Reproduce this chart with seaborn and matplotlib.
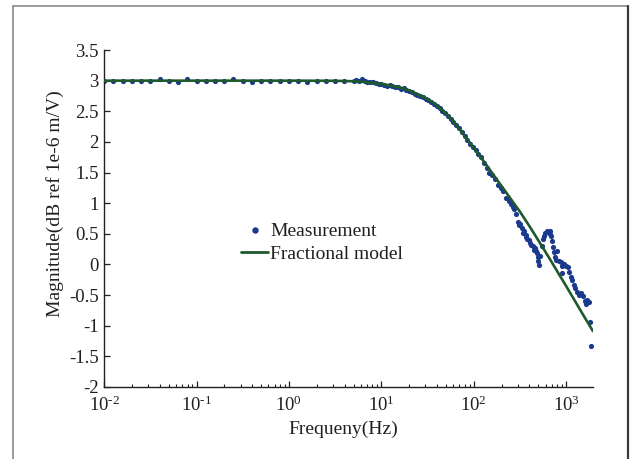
import matplotlib
matplotlib.use('Agg')
import matplotlib.pyplot as plt
from matplotlib.lines import Line2D
from matplotlib.ticker import LogLocator, FixedLocator, NullFormatter, FuncFormatter
import numpy as np
import seaborn as sns

# measurement, low frequency part (log10 of frequency in Hz)
low_exp = [-2.0, -1.9, -1.8, -1.7, -1.6, -1.5, -1.4, -1.3, -1.2, -1.1,
           -1.0, -0.9, -0.8, -0.7, -0.6, -0.5, -0.4, -0.3, -0.2, -0.1,
           0.0, 0.1, 0.2, 0.3, 0.4, 0.5, 0.6, 0.7]
low_mag = [3.00, 3.00, 3.00, 3.00, 3.00, 2.99, 3.02, 2.99, 2.98, 3.03,
           2.99, 2.99, 2.99, 3.00, 3.03, 2.99, 2.98, 2.99, 2.99, 2.99,
           2.99, 2.99, 2.98, 2.99, 2.99, 2.99, 2.99, 3.00]

# measurement, roll-off part
mid_exp = [0.73, 0.76, 0.79, 0.82, 0.85, 0.88, 0.91, 0.94, 0.97, 1.00,
           1.03, 1.06, 1.09, 1.12, 1.15, 1.18, 1.21, 1.24, 1.27, 1.30,
           1.33, 1.36, 1.39, 1.42, 1.45, 1.48, 1.51, 1.54, 1.57, 1.60,
           1.63, 1.66, 1.69, 1.72, 1.75, 1.78, 1.81, 1.84, 1.87, 1.90,
           1.93, 1.96, 1.99, 2.02, 2.05, 2.08, 2.11, 2.14, 2.17, 2.20,
           2.23, 2.26, 2.29, 2.32, 2.35, 2.38]
mid_mag = [3.01, 3.00, 3.02, 2.99, 2.98, 2.97, 2.98, 2.96, 2.95, 2.95,
           2.93, 2.92, 2.93, 2.91, 2.90, 2.89, 2.87, 2.88, 2.85, 2.83,
           2.82, 2.79, 2.77, 2.75, 2.73, 2.70, 2.68, 2.65, 2.62, 2.59,
           2.56, 2.51, 2.47, 2.43, 2.38, 2.33, 2.28, 2.22, 2.16, 2.10,
           2.03, 1.96, 1.91, 1.87, 1.81, 1.76, 1.66, 1.57, 1.49, 1.46,
           1.40, 1.30, 1.24, 1.20, 1.09, 1.04]

# measurement, high frequency part
high_exp = [2.40, 2.42, 2.44, 2.46, 2.48, 2.49, 2.50, 2.52, 2.53, 2.54,
            2.56, 2.57, 2.58, 2.60, 2.61, 2.62, 2.64, 2.65, 2.66, 2.67,
            2.68, 2.69, 2.70, 2.71, 2.72, 2.74, 2.75, 2.76, 2.77, 2.79,
            2.80, 2.82, 2.83, 2.84, 2.85, 2.86, 2.87, 2.88, 2.89, 2.90,
            2.92, 2.94, 2.95, 2.96, 2.98, 3.00, 3.02, 3.03, 3.05, 3.06,
            3.08, 3.10, 3.12, 3.14, 3.16, 3.18, 3.20, 3.21, 3.23, 3.245,
            3.26, 3.272]
high_mag = [0.99, 0.94, 0.90, 0.82, 0.70, 0.64, 0.66, 0.60, 0.52, 0.55,
            0.48, 0.44, 0.42, 0.40, 0.35, 0.32, 0.30, 0.24, 0.27, 0.22,
            0.18, 0.12, 0.06, -0.01, 0.13, 0.30, 0.42, 0.47, 0.52, 0.55,
            0.53, 0.55, 0.50, 0.46, 0.38, 0.28, 0.20, 0.12, 0.07, 0.22,
            0.05, 0.04, -0.03, -0.14, 0.00, -0.02, -0.05, -0.12, -0.20, -0.25,
            -0.33, -0.38, -0.45, -0.50, -0.47, -0.52, -0.60, -0.65, -0.58, -0.62,
            -0.94, -1.33]

# fractional model curve
model_exp = [-2.0, -1.0, 0.0, 0.5, 0.7, 0.8, 0.9, 1.0, 1.1, 1.2,
             1.3, 1.4, 1.5, 1.6, 1.7, 1.8, 1.9, 2.0, 2.1, 2.2,
             2.3, 2.4, 2.5, 2.6, 2.7, 2.8, 2.9, 3.0, 3.1, 3.2, 3.29]
model_mag = [3.0, 3.0, 3.0, 2.998, 2.99, 2.98, 2.965, 2.945, 2.92, 2.89,
             2.84, 2.775, 2.70, 2.60, 2.465, 2.30, 2.10, 1.90, 1.70, 1.49,
             1.28, 1.07, 0.86, 0.63, 0.39, 0.145, -0.105, -0.355, -0.61, -0.865, -1.09]

y_ticks = [-2, -1.5, -1, -0.5, 0, 0.5, 1, 1.5, 2, 2.5, 3, 3.5]
y_tick_labels = ['-2', '-1.5', '-1', '-0.5', '0', '0.5', '1', '1.5', '2', '2.5', '3', '3.5']

sns.set_theme(style='white')
plt.rcParams['font.family'] = ['Liberation Serif', 'DejaVu Serif']
plt.rcParams['mathtext.fontset'] = 'custom'
plt.rcParams['mathtext.rm'] = 'Liberation Serif'
plt.rcParams['mathtext.it'] = 'Liberation Serif:italic'
plt.rcParams['axes.unicode_minus'] = False

ink = '#231f20'
blue = '#1b3a8c'
green = '#1f5a2c'

meas_f = 10 ** np.array(low_exp + mid_exp + high_exp)
meas_m = np.array(low_mag + mid_mag + high_mag)
model_f = 10 ** np.array(model_exp)


def pow_label(v, pos):
    e = int(round(np.log10(v)))
    return r'$\mathrm{10}^{\text{%d}}$' % e


fig = plt.figure(figsize=(6.31, 4.59), dpi=100)
ax = fig.add_axes([0.165, 0.157, 0.7755, 0.734])

sns.scatterplot(x=meas_f, y=meas_m, ax=ax, s=14, color=blue, linewidth=0, zorder=2)
sns.lineplot(x=model_f, y=model_mag, ax=ax, color=green, linewidth=1.9, zorder=3)

ax.set_xscale('log')
ax.set_xlim(0.01, 10 ** 3.295)
ax.set_ylim(-2, 3.5)
ax.yaxis.set_major_locator(FixedLocator(y_ticks))
ax.set_yticklabels(y_tick_labels)
ax.xaxis.set_major_locator(LogLocator(base=10, numticks=10))
ax.xaxis.set_major_formatter(FuncFormatter(pow_label))
ax.xaxis.set_minor_locator(LogLocator(base=10, subs=np.arange(2, 10), numticks=20))
ax.xaxis.set_minor_formatter(NullFormatter())

sns.despine(ax=ax)
for side in ['left', 'bottom']:
    ax.spines[side].set_color(ink)
    ax.spines[side].set_linewidth(1.0)

ax.tick_params(axis='both', which='major', direction='in', length=4.0, width=0.9,
               color=ink, labelcolor=ink, labelsize=13.5, left=True, bottom=True)
ax.tick_params(axis='x', which='major', pad=6)
ax.tick_params(axis='y', which='major', pad=4)
ax.tick_params(axis='x', which='minor', direction='in', length=2.4, width=0.8,
               color=ink, bottom=True)
ax.tick_params(axis='y', which='minor', left=False)

ax.set_xlabel('Frequeny(Hz)', fontsize=14, color=ink)
ax.set_ylabel('Magnitude(dB ref 1e-6 m/V)', fontsize=14, color=ink)
ax.xaxis.set_label_coords(0.489, -0.10)
ax.yaxis.set_label_coords(-0.082, 0.545)

handles = [Line2D([], [], marker='o', linestyle='none', markersize=3.6,
                  markerfacecolor=blue, markeredgecolor=blue),
           Line2D([], [], color=green, linewidth=2.0)]
ax.legend(handles, ['Measurement', 'Fractional model'], loc='upper left',
          bbox_to_anchor=(0.28, 0.487), frameon=False, fontsize=14,
          handlelength=1.4, handletextpad=0.1, borderpad=0, borderaxespad=0,
          labelspacing=0.25, labelcolor=ink)

# outer frame of the figure
fig.add_artist(Line2D([0.0206, 0.0206], [-0.05, 0.987], color='#8a8a8a', lw=1.2,
                      transform=fig.transFigure))
fig.add_artist(Line2D([0.0206, 0.995], [0.987, 0.987], color='#8a8a8a', lw=1.2,
                      transform=fig.transFigure))
fig.add_artist(Line2D([0.995, 0.995], [-0.05, 0.987], color='#3a3a3a', lw=1.6,
                      transform=fig.transFigure))

fig.savefig('out.png', dpi=100)
